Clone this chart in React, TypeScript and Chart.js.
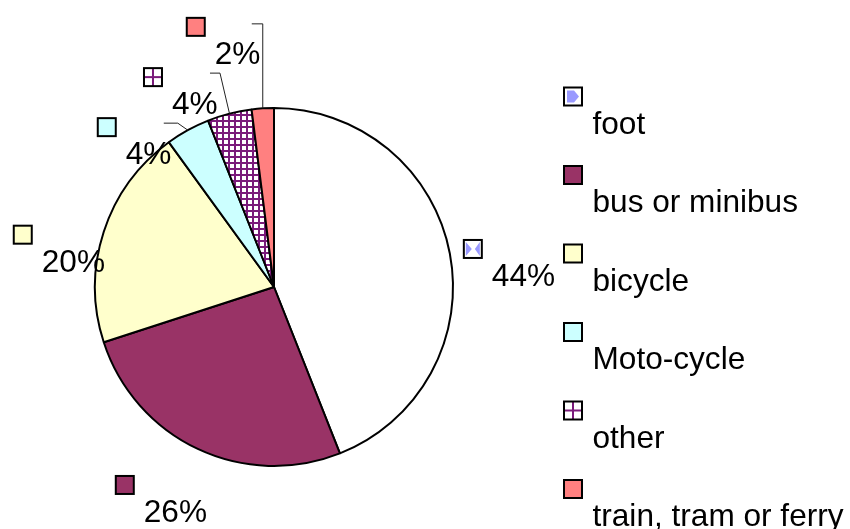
import React, { useEffect, useRef } from "react";
import { Chart, registerables } from "chart.js";

Chart.register(...registerables);

// ---- data ----
const categories = ["foot", "bus or minibus", "bicycle", "Moto-cycle", "other", "train, tram or ferry"];
const shares = [44, 26, 20, 4, 4, 2];
const percentLabels = ["44%", "26%", "20%", "4%", "4%", "2%"];

// ---- styles ----
const FONT = "31.6px 'Liberation Sans', Arial, Helvetica, sans-serif";
const sliceColors = ["#FFFFFF", "#993366", "#FFFFCC", "#CCFFFF", "PATTERN", "#FF8080"];
// offset of each label's key box (top-left) from the slice's outer mid point
const labelOffsets: [number, number][] = [
  [13, -14.5],
  [-83, 26],
  [-91, -7],
  [-91, -13],
  [-86.5, -46.5],
  [-77, -91.5],
];
// leader lines: [elbowDx, endDx, dy] relative to key box, or null
const leaders: ([number, number, number] | null)[] = [null, null, null, [81, 67, 6], [77, 67, 6], [77, 66, 7]];

function makeGridPattern(): CanvasPattern | string {
  const c = document.createElement("canvas");
  c.width = 6;
  c.height = 6;
  const g = c.getContext("2d");
  if (!g) return "#800080";
  g.fillStyle = "#FFFFFF";
  g.fillRect(0, 0, 6, 6);
  g.fillStyle = "#7A1A7A";
  g.fillRect(0, 0, 2, 6);
  g.fillRect(0, 0, 6, 2);
  return g.createPattern(c, "repeat") || "#800080";
}

function drawKey(ctx: CanvasRenderingContext2D, x: number, y: number, i: number, fill: any, inLegend: boolean) {
  const s = 18;
  ctx.save();
  ctx.fillStyle = i === 0 ? "#FFFFFF" : fill;
  ctx.fillRect(x + 1, y + 1, s, s);
  if (i === 0) {
    ctx.fillStyle = "#9999FF";
    ctx.beginPath();
    if (inLegend) {
      ctx.moveTo(x + 4, y + 4);
      ctx.lineTo(x + 11, y + 4);
      ctx.lineTo(x + 16, y + 10);
      ctx.lineTo(x + 11, y + 16);
      ctx.lineTo(x + 4, y + 16);
      ctx.closePath();
    } else {
      ctx.moveTo(x + 3, y + 3);
      ctx.lineTo(x + 9, y + 10);
      ctx.lineTo(x + 3, y + 17);
      ctx.closePath();
      ctx.moveTo(x + 17, y + 3);
      ctx.lineTo(x + 12, y + 10);
      ctx.lineTo(x + 17, y + 17);
      ctx.closePath();
    }
    ctx.fill();
  }
  if (i === 4) {
    ctx.fillStyle = "#FFFFFF";
    ctx.fillRect(x + 1, y + 1, s, s);
    ctx.fillStyle = "#7A1A7A";
    ctx.fillRect(x + 9, y + 1, 2, s);
    ctx.fillRect(x + 1, y + 9, s, 2);
  }
  ctx.strokeStyle = "#000000";
  ctx.lineWidth = 2;
  ctx.strokeRect(x + 1, y + 1, s, s);
  ctx.restore();
}

const labelPlugin = {
  id: "pieLabels",
  afterDatasetsDraw(chart: any) {
    const ctx: CanvasRenderingContext2D = chart.ctx;
    const meta = chart.getDatasetMeta(0);
    const ds = chart.data.datasets[0];
    meta.data.forEach((arc: any, i: number) => {
      const { x, y, startAngle, endAngle, outerRadius } = arc.getProps(["x", "y", "startAngle", "endAngle", "outerRadius"], true);
      const mid = (startAngle + endAngle) / 2;
      const px = x + Math.cos(mid) * outerRadius;
      const py = y + Math.sin(mid) * outerRadius;
      const kx = px + labelOffsets[i][0];
      const ky = py + labelOffsets[i][1];
      const ld = leaders[i];
      if (ld) {
        ctx.save();
        ctx.strokeStyle = "#222222";
        ctx.lineWidth = 1;
        ctx.beginPath();
        ctx.moveTo(px, py);
        ctx.lineTo(kx + ld[0], ky + ld[2]);
        ctx.lineTo(kx + ld[1], ky + ld[2]);
        ctx.stroke();
        ctx.restore();
      }
      const bg = Array.isArray(ds.backgroundColor) ? ds.backgroundColor[i] : ds.backgroundColor;
      drawKey(ctx, kx, ky, i, bg, false);
      ctx.save();
      ctx.fillStyle = "#000000";
      ctx.font = FONT;
      ctx.textAlign = "left";
      ctx.textBaseline = "alphabetic";
      ctx.fillText(percentLabels[i], kx + 29, ky + 47);
      ctx.restore();
    });
  },
};

const legendPlugin = {
  id: "stackedLegend",
  afterDraw(chart: any) {
    const ctx: CanvasRenderingContext2D = chart.ctx;
    const ds = chart.data.datasets[0];
    const opts = chart.options.plugins.stackedLegend;
    (chart.data.labels as string[]).forEach((label, i) => {
      const kx = opts.x;
      const ky = opts.y + i * opts.step;
      const bg = Array.isArray(ds.backgroundColor) ? ds.backgroundColor[i] : ds.backgroundColor;
      drawKey(ctx, kx, ky, i, bg, true);
      ctx.save();
      ctx.fillStyle = "#000000";
      ctx.font = FONT;
      ctx.textAlign = "left";
      ctx.textBaseline = "alphabetic";
      ctx.fillText(label, kx + 29.5, ky + 47);
      ctx.restore();
    });
  },
};

export default function App() {
  const ref = useRef<HTMLCanvasElement>(null);
  useEffect(() => {
    if (!ref.current) return;
    const pattern = makeGridPattern();
    const bg = sliceColors.map((c) => (c === "PATTERN" ? pattern : c));
    const chart = new Chart(ref.current, {
      type: "pie",
      data: {
        labels: categories,
        datasets: [
          {
            data: shares,
            backgroundColor: bg as any,
            borderColor: "#000000",
            borderWidth: 2,
          },
        ],
      },
      options: {
        animation: false,
        responsive: false,
        devicePixelRatio: 1,
        layout: { padding: { left: 94, top: 107, right: 396, bottom: 62 } },
        plugins: {
          legend: { display: false },
          tooltip: { enabled: false },
          stackedLegend: { x: 563, y: 86.5, step: 78.5 },
        } as any,
      },
      plugins: [labelPlugin, legendPlugin],
    });
    return () => chart.destroy();
  }, []);
  return (
    <div style={{ position: "absolute", left: 0, top: 0, width: 850, height: 529, background: "#FFFFFF" }}>
      <canvas ref={ref} width={850} height={529} />
    </div>
  );
}
